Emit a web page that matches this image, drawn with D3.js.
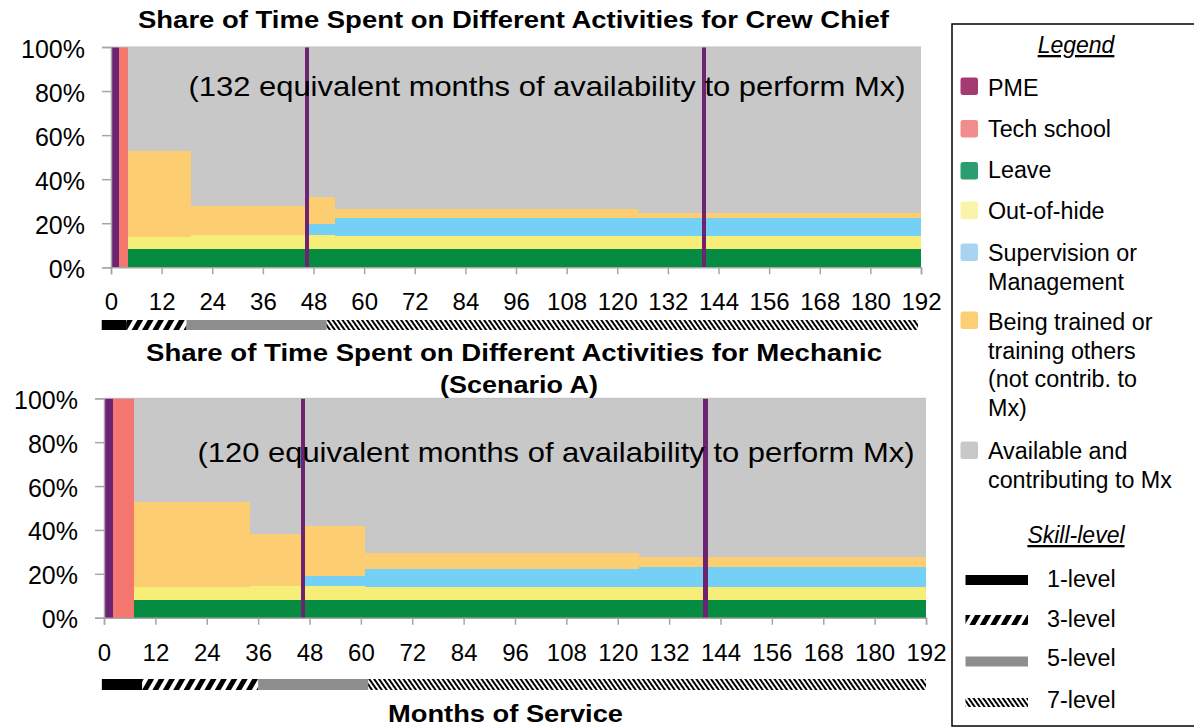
<!DOCTYPE html>
<html><head><meta charset="utf-8">
<script src="https://cdn.jsdelivr.net/npm/d3@7"></script>
<style>
body{margin:0;background:#fff;}
svg{display:block;font-family:"Liberation Sans",Arial,sans-serif;}
</style>
</head><body>
<svg id="c" width="1194" height="728"></svg>
<script>
// ---------- DATA ----------
const activityKeys = ["pme","tech","leave","ooh","sup","train","avail"];
const legendLabels = [["PME"],["Tech school"],["Leave"],["Out-of-hide"],["Supervision or","Management"],["Being trained or","training others","(not contrib. to","Mx)"],["Available and","contributing to Mx"]];
const monthTicks = [0,12,24,36,48,60,72,84,96,108,120,132,144,156,168,180,192];
const pctTicks = [0,20,40,60,80,100];

// Crew Chief: periods (months of service) and % of time per activity
const crewStart = [0, 2, 4, 19, 46, 47, 53, 125, 140, 141];
const crewEnd   = [2, 4, 19, 46, 47, 53, 125, 140, 141, 192];
const crewPME   = [100, 0, 0, 0, 100, 0, 0, 0, 100, 0];
const crewTech  = [0, 100, 0, 0, 0, 0, 0, 0, 0, 0];
const crewLeave = [0, 0, 8.3, 8.3, 0, 8.3, 8.3, 8.3, 0, 8.3];
const crewOOH   = [0, 0, 5.6, 6.2, 0, 6.4, 5.7, 5.7, 0, 5.7];
const crewSup   = [0, 0, 0, 0, 0, 4.8, 8.5, 8.5, 0, 8.5];
const crewTrain = [0, 0, 39.0, 13.5, 0, 12.5, 3.9, 2.3, 0, 2.3];
const crewAvail = [0, 0, 47.1, 72.0, 0, 68.0, 73.6, 75.2, 0, 75.2];

// Mechanic (Scenario A)
const mechStart = [0, 2, 7, 34, 46, 47, 61, 125, 140, 141];
const mechEnd   = [2, 7, 34, 46, 47, 61, 125, 140, 141, 192];
const mechPME   = [100, 0, 0, 0, 100, 0, 0, 0, 100, 0];
const mechTech  = [0, 100, 0, 0, 0, 0, 0, 0, 0, 0];
const mechLeave = [0, 0, 8.1, 8.1, 0, 8.1, 8.1, 8.1, 0, 8.1];
const mechOOH   = [0, 0, 5.8, 6.3, 0, 6.3, 5.9, 6.0, 0, 6.0];
const mechSup   = [0, 0, 0, 0, 0, 4.7, 8.1, 8.9, 0, 8.9];
const mechTrain = [0, 0, 39.0, 23.6, 0, 22.8, 7.3, 4.5, 0, 4.5];
const mechAvail = [0, 0, 47.1, 62.0, 0, 58.1, 70.6, 72.5, 0, 72.5];

// Skill-level bars (months of service)
const skillLevels = ["1-level","3-level","5-level","7-level"];
const crewSkillStart = [-2.2, 3.6, 17.9, 51.1];
const crewSkillEnd   = [3.6, 17.9, 51.1, 191.3];
const mechSkillStart = [-0.5, 8.9, 36, 61.7];
const mechSkillEnd   = [8.9, 36, 61.7, 192];

const crewTitle = ["Share of Time Spent on Different Activities for Crew Chief"];
const mechTitle = ["Share of Time Spent on Different Activities for Mechanic","(Scenario A)"];
const crewNote = "(132 equivalent months of availability to perform Mx)";
const mechNote = "(120 equivalent months of availability to perform Mx)";

// ---------- STYLE ----------
const chartColors = {pme:"#6E2272",tech:"#F3766F",leave:"#068C41",ooh:"#F6EE79",sup:"#74D0F5",train:"#FDCD72",avail:"#C8C8C8"};
const legendColors = {pme:"#A53A73",tech:"#F28D8D",leave:"#2A9E6E",ooh:"#F9F4AA",sup:"#A9D4F0",train:"#FDCF73",avail:"#C8C8C8"};
const skillFills = ["#000","url(#hatch3)","#8E8E8E","url(#hatch7)"];

const svg = d3.select("#c");
const defs = svg.append("defs");
defs.append("pattern").attr("id","hatch3").attr("patternUnits","userSpaceOnUse")
  .attr("width",9).attr("height",9).attr("patternTransform","rotate(30)")
  .append("rect").attr("width",5).attr("height",9).attr("fill","#000");
defs.append("pattern").attr("id","hatch7").attr("patternUnits","userSpaceOnUse")
  .attr("width",4).attr("height",4).attr("patternTransform","rotate(-35)")
  .append("rect").attr("width",2).attr("height",4).attr("fill","#000");

function buildRows(s,e,a,b,c,d,f,g,h){
  return s.map((v,i)=>({start:v,end:e[i],pme:a[i],tech:b[i],leave:c[i],ooh:d[i],sup:f[i],train:g[i],avail:h[i]}));
}

function fitText(sel, len){
  sel.attr("textLength",len).attr("lengthAdjust","spacingAndGlyphs");
}

function drawChart(cfg){
  const x = d3.scaleLinear().domain([0,192]).range([cfg.x0,cfg.x1]);
  const y = d3.scaleLinear().domain([0,100]).range([cfg.y0,cfg.y1]);
  const g = svg.append("g");
  const stacked = d3.stack().keys(activityKeys)(cfg.rows);
  g.selectAll("g.layer").data(stacked).join("g").attr("class","layer")
    .attr("fill",d=>chartColors[d.key])
    .selectAll("rect").data(d=>d).join("rect")
    .attr("x",d=>x(d.data.start)).attr("width",d=>x(d.data.end)-x(d.data.start))
    .attr("y",d=>y(d[1])).attr("height",d=>Math.max(0,y(d[0])-y(d[1])))
    .attr("shape-rendering","crispEdges");
  g.append("line").attr("x1",x(0)).attr("x2",x(192)).attr("y1",y(100)).attr("y2",y(100))
    .attr("stroke","#c0c0c0").attr("stroke-width",1);
  const ya = g.append("g").attr("transform",`translate(${x(0)},0)`)
    .call(d3.axisLeft(y).tickValues(pctTicks).tickFormat(d=>d+"%").tickSize(9).tickPadding(17));
  ya.selectAll("text").attr("font-size",25).attr("fill","#000").attr("dy","0.40em").attr("font-family","Liberation Sans, Arial, sans-serif");
  const xa = g.append("g").attr("transform",`translate(0,${y(0)})`)
    .call(d3.axisBottom(x).tickValues(monthTicks).tickSize(7).tickPadding(19));
  xa.selectAll("text").attr("font-size",24).attr("fill","#000").attr("font-family","Liberation Sans, Arial, sans-serif");
  [ya,xa].forEach(a=>{
    a.select(".domain").attr("stroke","#A6A6A6").attr("stroke-width",1.5);
    a.selectAll(".tick line").attr("stroke","#A6A6A6").attr("stroke-width",1.5);
  });
  g.append("text").attr("x",cfg.noteX).attr("y",cfg.noteY).attr("text-anchor","middle")
    .attr("font-size",28).attr("fill","#000").text(cfg.note).call(fitText,717);
  cfg.title.forEach((t,i)=>{
    g.append("text").attr("x",cfg.titleX[i]).attr("y",cfg.titleY[i]).attr("text-anchor","middle")
      .attr("font-size",23.5).attr("font-weight","bold").attr("fill","#000").text(t)
      .call(fitText,cfg.titleW[i]);
  });
  g.selectAll("rect.skill").data(cfg.skillStart).join("rect").attr("class","skill")
    .attr("x",(d,i)=>x(d)).attr("width",(d,i)=>x(cfg.skillEnd[i])-x(d))
    .attr("y",cfg.skillY).attr("height",cfg.skillH)
    .attr("fill",(d,i)=>skillFills[i]);
}

drawChart({rows:buildRows(crewStart,crewEnd,crewPME,crewTech,crewLeave,crewOOH,crewSup,crewTrain,crewAvail),
  x0:111,x1:921,y0:267.3,y1:47,note:crewNote,noteX:547,noteY:96,
  title:crewTitle,titleX:[513.5],titleY:[28],titleW:[751],skillStart:crewSkillStart,skillEnd:crewSkillEnd,skillY:320,skillH:10});
drawChart({rows:buildRows(mechStart,mechEnd,mechPME,mechTech,mechLeave,mechOOH,mechSup,mechTrain,mechAvail),
  x0:104,x1:926,y0:617.7,y1:398.3,note:mechNote,noteX:556,noteY:462,
  title:mechTitle,titleX:[514,519],titleY:[361,393],titleW:[736,158],skillStart:mechSkillStart,skillEnd:mechSkillEnd,skillY:679,skillH:11});

svg.append("text").attr("x",505.5).attr("y",722).attr("text-anchor","middle")
  .attr("font-size",23.5).attr("font-weight","bold").text("Months of Service").call(fitText,235);

// ---------- LEGEND ----------
const lg = svg.append("g");
lg.append("rect").attr("x",952).attr("y",24).attr("width",260).attr("height",702)
  .attr("fill","#fff").attr("stroke","#000").attr("stroke-width",1.5);
lg.append("text").attr("x",1076).attr("y",53).attr("text-anchor","middle").attr("font-size",23)
  .attr("font-style","italic").attr("text-decoration","underline").text("Legend");
const swY = [77.5,120,162,201.5,243.5,311.5,441.5];
const txY = [96,137,178,219,261,330,459];
activityKeys.forEach((k,i)=>{
  lg.append("rect").attr("x",960.5).attr("y",swY[i]).attr("width",17.5).attr("height",17.5).attr("rx",2.5)
    .attr("fill",legendColors[k]);
  legendLabels[i].forEach((t,j)=>{
    lg.append("text").attr("x",988).attr("y",txY[i]+j*28.7).attr("font-size",23.3).attr("fill","#000").text(t);
  });
});
lg.append("text").attr("x",1076).attr("y",543).attr("text-anchor","middle").attr("font-size",23)
  .attr("font-style","italic").attr("text-decoration","underline").text("Skill-level");
const skY = [575,615,656.5,698];
const skTy = [587,627,666,708];
skillLevels.forEach((s,i)=>{
  lg.append("rect").attr("x",965.5).attr("y",skY[i]).attr("width",62.5).attr("height",i===3?9:10).attr("fill",skillFills[i]);
  lg.append("text").attr("x",1047).attr("y",skTy[i]).attr("font-size",23.3).attr("fill","#000").text(s);
});
</script>
</body></html>
